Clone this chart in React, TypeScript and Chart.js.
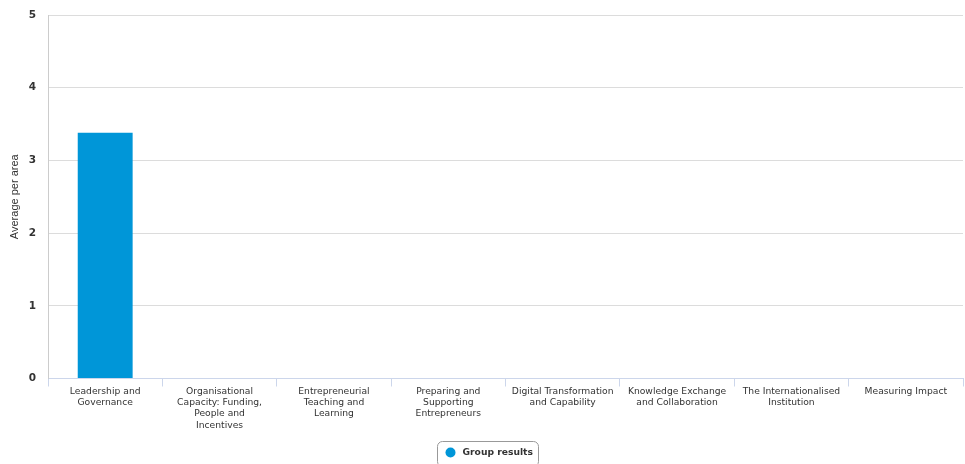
import React, { useEffect, useRef } from "react";
import { Chart, registerables } from "chart.js";

Chart.register(...registerables);

// Area names, wrapped onto the lines shown under each bar slot
const categories: string[][] = [
  ["Leadership and", "Governance"],
  ["Organisational", "Capacity: Funding,", "People and", "Incentives"],
  ["Entrepreneurial", "Teaching and", "Learning"],
  ["Preparing and", "Supporting", "Entrepreneurs"],
  ["Digital Transformation", "and Capability"],
  ["Knowledge Exchange", "and Collaboration"],
  ["The Internationalised", "Institution"],
  ["Measuring Impact"],
];

const seriesName = "Group results";
const groupResults: (number | null)[] = [3.38, null, null, null, null, null, null, null];

const yTicks: number[] = [0, 1, 2, 3, 4, 5];
const yTitle = "Average per area";

const BAR_COLOR = "#0096d8";

// Bordered legend item under the chart
const boxedLegend = {
  id: "boxedLegend",
  afterDraw(chart: any) {
    const ctx = chart.ctx as CanvasRenderingContext2D;
    const label = chart.data.datasets[0].label as string;
    ctx.save();
    ctx.font = "bold 9.2px 'DejaVu Sans'";
    const tw = ctx.measureText(label).width;
    const w = Math.round(tw + 31);
    const h = 25;
    const x = Math.round(chart.width / 2 - w / 2 + 5) + 0.5;
    const y = 441.5;
    ctx.beginPath();
    ctx.roundRect(x, y, w, h, 5);
    ctx.strokeStyle = "#999999";
    ctx.lineWidth = 1;
    ctx.stroke();
    ctx.beginPath();
    ctx.arc(x + 13, y + 11, 5, 0, Math.PI * 2);
    ctx.fillStyle = BAR_COLOR;
    ctx.fill();
    ctx.fillStyle = "#333333";
    ctx.textBaseline = "middle";
    ctx.textAlign = "left";
    ctx.fillText(label, x + 25, y + 11);
    ctx.restore();
  },
};

export default function App() {
  const canvasRef = useRef<HTMLCanvasElement | null>(null);

  useEffect(() => {
    if (!canvasRef.current) return;
    const chart = new Chart(canvasRef.current, {
      type: "bar",
      data: {
        labels: categories,
        datasets: [
          {
            label: seriesName,
            data: groupResults,
            backgroundColor: BAR_COLOR,
            borderWidth: 0,
            categoryPercentage: 1,
            barPercentage: 0.48,
          },
        ],
      },
      options: {
        responsive: false,
        animation: false,
        layout: { padding: { top: 15, right: 2, bottom: 0, left: 0 } },
        plugins: {
          legend: { display: false },
          tooltip: { enabled: false },
        },
        scales: {
          x: {
            offset: true,
            grid: {
              offset: true,
              drawOnChartArea: false,
              drawTicks: true,
              tickLength: 8,
              color: "#ccd6eb",
            },
            border: { display: true, color: "#ccd6eb", width: 1 },
            ticks: {
              padding: 0,
              maxRotation: 0,
              autoSkip: false,
              color: "#333333",
              font: { family: "'DejaVu Sans'", size: 9.2, lineHeight: 1.2 },
            },
            afterFit(scale: any) {
              scale.height = 85.5;
            },
          },
          y: {
            min: 0,
            max: 5,
            afterBuildTicks(scale: any) {
              scale.ticks = yTicks.map((v) => ({ value: v }));
            },
            grid: { color: "#dcdcdc", drawTicks: true, tickLength: 12, tickColor: "rgba(0,0,0,0)" },
            border: { display: true, color: "#cccccc", width: 1 },
            ticks: {
              padding: 0,
              color: "#333333",
              font: { family: "'DejaVu Sans'", size: 10.5, weight: "bold" },
            },
            title: {
              display: true,
              text: yTitle,
              color: "#333333",
              padding: { top: 8, bottom: 0 },
              font: { family: "'Liberation Sans'", size: 11 },
            },
            afterFit(scale: any) {
              scale.width = 48;
            },
          },
        },
      },
      plugins: [boxedLegend],
    });
    return () => chart.destroy();
  }, []);

  return (
    <div style={{ position: "absolute", left: 0, top: 0, width: 965, height: 464, background: "#ffffff" }}>
      <canvas ref={canvasRef} width={965} height={464} style={{ display: "block" }} />
    </div>
  );
}
